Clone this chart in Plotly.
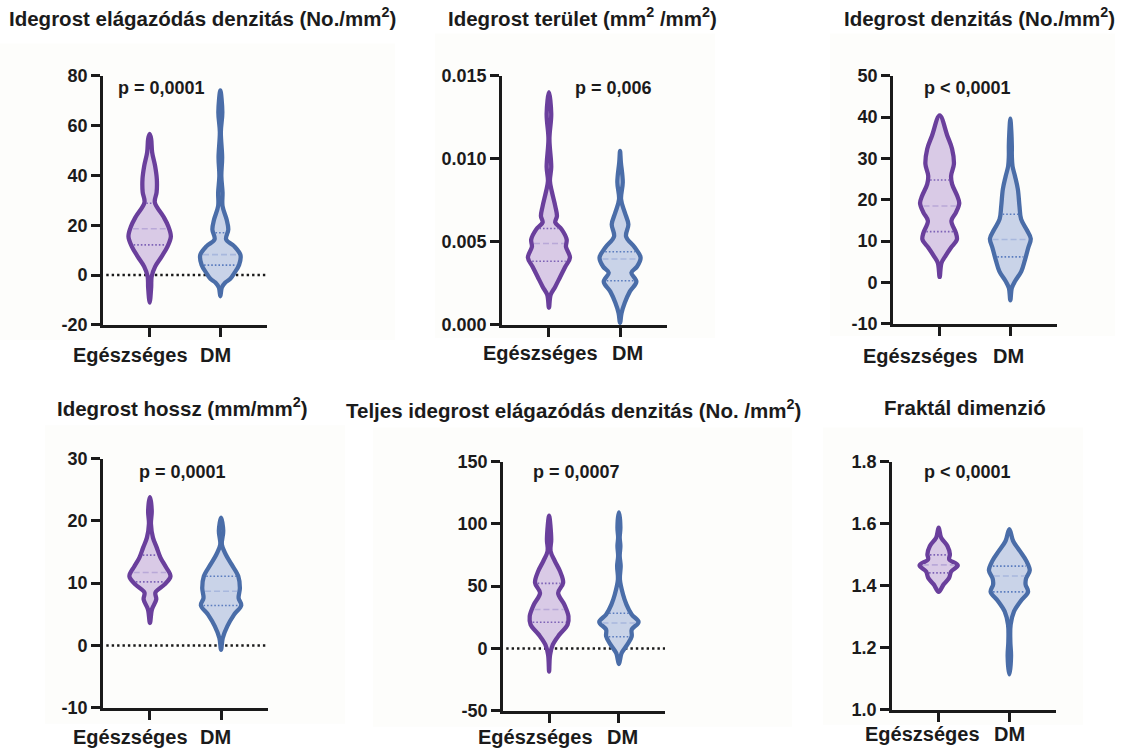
import numpy as np
import plotly.graph_objects as go

# ---------------- DATA ----------------
categories = ["Egészséges", "DM"]

titles = [
    "Idegrost elágazódás denzitás (No./mm<sup>2</sup>)",
    "Idegrost terület (mm<sup>2</sup> /mm<sup>2</sup>)",
    "Idegrost denzitás (No./mm<sup>2</sup>)",
    "Idegrost hossz (mm/mm<sup>2</sup>)",
    "Teljes idegrost elágazódás denzitás (No. /mm<sup>2</sup>)",
    "Fraktál dimenzió",
]
p_labels = ["p = 0,0001", "p = 0,006", "p < 0,0001", "p = 0,0001", "p = 0,0007", "p < 0,0001"]

# y-axis ticks
p1_ticks = [-20, 0, 20, 40, 60, 80]
p2_ticks = [0.000, 0.005, 0.010, 0.015]
p2_ticktext = ["0.000", "0.005", "0.010", "0.015"]
p3_ticks = [-10, 0, 10, 20, 30, 40, 50]
p4_ticks = [-10, 0, 10, 20, 30]
p5_ticks = [-50, 0, 50, 100, 150]
p6_ticks = [1.0, 1.2, 1.4, 1.6, 1.8]
p6_ticktext = ["1.0", "1.2", "1.4", "1.6", "1.8"]

# Violin density profiles (value, relative density)
p1_h_vals = [-11.1, -5, -0.6, 3.4, 7.4, 11.5, 15.5, 19.5, 23.5, 29.2, 33.2, 38.5, 43.7, 49.3, 54.6, 56.6]
p1_h_dens = [0, 1.5, 2, 5.5, 12, 18, 21.3, 18.8, 13.8, 5.2, 7, 7.2, 5.5, 2.5, 1.5, 0]
p1_d_vals = [-8.5, -5, -3, -1.5, 0.8, 4.0, 8.0, 11.6, 14.3, 18.3, 22.3, 27.7, 33.2, 39.7, 47.3, 57.4, 65.4, 74.1]
p1_d_dens = [0, 1.5, 5, 10, 14, 18.8, 20.2, 13.8, 5.8, 8, 6.3, 2.2, 2.2, 1, 1.8, 0.5, 2, 0]

p2_h_vals = [1.03e-3, 1.81e-3, 2.3e-3, 2.9e-3, 3.5e-3, 4.05e-3, 4.7e-3, 5.14e-3, 5.75e-3, 6.17e-3, 6.55e-3, 7.15e-3, 8.0e-3, 8.65e-3, 9.5e-3, 11.2e-3, 12.7e-3, 14.01e-3]
p2_h_dens = [0, 1.7, 6.3, 11.3, 16.3, 21, 17, 17.7, 12.7, 6.3, 8, 6.3, 3, 1, 2.3, 0.5, 2.3, 0]
p2_d_vals = [0.12e-3, 0.72e-3, 1.33e-3, 2.0e-3, 2.6e-3, 3.14e-3, 3.5e-3, 4.05e-3, 4.66e-3, 5.32e-3, 6.05e-3, 6.77e-3, 7.56e-3, 8.59e-3, 9.8e-3, 10.48e-3]
p2_d_dens = [0, 1.5, 4.7, 9.7, 16.3, 11.3, 16.8, 20.5, 14.7, 6, 8.3, 4.7, 1, 2.7, 0.8, 0]

p3_h_vals = [1.35, 4.7, 6.4, 8.4, 10.4, 12.0, 14.9, 16.9, 19.2, 20.9, 23.8, 25.8, 28.6, 32.3, 35.5, 40.4]
p3_h_dens = [0, 1.8, 5.8, 11.3, 17.3, 16.3, 11.8, 16.3, 19.7, 17.7, 12.5, 11.5, 14.3, 12.5, 7.7, 0]
p3_d_vals = [-4.3, -1.3, 0.3, 2.7, 5.5, 8.4, 10.6, 12.8, 15.3, 18.4, 22.6, 25.7, 28.1, 30.6, 33.0, 36.4, 39.6]
p3_d_dens = [0, 1.5, 4.7, 11, 14.7, 18, 20.5, 16.3, 10.8, 9.2, 7.5, 4.7, 2.2, 1.5, 1.5, 1, 0]

p4_h_vals = [3.6, 5.8, 7.4, 8.5, 9.8, 11.1, 12.7, 14.1, 15.7, 17.3, 19.5, 21.6, 23.8]
p4_h_dens = [0, 2, 6.3, 5.5, 14.7, 20.5, 15.5, 10.5, 6.8, 3, 1, 1.8, 0]
p4_d_vals = [-0.7, 1.2, 3.1, 4.95, 6.45, 7.6, 9.2, 11.1, 13.0, 14.6, 16.2, 18.4, 20.5]
p4_d_dens = [0, 1.7, 6.3, 13, 20.2, 17.5, 18.8, 17.2, 10.5, 4.7, 0.8, 2.2, 0]

p5_h_vals = [-18.5, -5.1, 3.0, 11.1, 19.1, 25.8, 35.2, 44.6, 52.7, 62.1, 70.2, 78.2, 87.6, 106.5]
p5_h_dens = [0, 1, 3.8, 10.5, 18.8, 19.7, 15.5, 9.2, 14.3, 11, 5.8, 1.5, 2.2, 0]
p5_d_vals = [-12.6, -3.8, 3.0, 9.7, 15.1, 21.2, 27.2, 35.2, 43.3, 55.4, 66.1, 74.2, 82.3, 89.0, 97.0, 109.1]
p5_d_dens = [0, 2.7, 8.5, 13, 13, 20, 13, 7.7, 4.2, 1, 1.8, 0.8, 1.5, 0.8, 1.5, 0]

p6_h_vals = [1.380, 1.404, 1.425, 1.445, 1.465, 1.485, 1.501, 1.528, 1.555, 1.587]
p6_h_dens = [0, 5, 10.5, 12.5, 19.2, 10.5, 11.3, 8.8, 2.5, 0]
p6_d_vals = [1.114, 1.172, 1.220, 1.274, 1.317, 1.350, 1.380, 1.404, 1.423, 1.449, 1.479, 1.512, 1.544, 1.582]
p6_d_dens = [0, 1.7, 1, 1.3, 4.7, 11.3, 18.8, 16.3, 16.8, 20.5, 17.2, 10.5, 3.8, 0]

# Quartiles (Q1, median, Q3)
p1_h_q = [12.1, 18.6, 28.8]
p1_d_q = [4.0, 8.2, 17.0]
p2_h_q = [0.00383, 0.0049, 0.0058]
p2_d_q = [0.00266, 0.00397, 0.0044]
p3_h_q = [12.3, 18.5, 24.8]
p3_d_q = [6.2, 10.4, 16.5]
p4_h_q = [10.2, 11.7, 14.5]
p4_d_q = [6.4, 8.7, 11.1]
p5_h_q = [21.0, 31.2, 52.2]
p5_d_q = [9.4, 20.4, 28.2]
p6_h_q = [1.441, 1.467, 1.499]
p6_d_q = [1.380, 1.431, 1.463]

panels = [
    dict(ticks=p1_ticks, ticktext=[str(t) for t in p1_ticks], zero=True,
         h=(p1_h_vals, p1_h_dens, p1_h_q), d=(p1_d_vals, p1_d_dens, p1_d_q)),
    dict(ticks=p2_ticks, ticktext=p2_ticktext, zero=False,
         h=(p2_h_vals, p2_h_dens, p2_h_q), d=(p2_d_vals, p2_d_dens, p2_d_q)),
    dict(ticks=p3_ticks, ticktext=[str(t) for t in p3_ticks], zero=False,
         h=(p3_h_vals, p3_h_dens, p3_h_q), d=(p3_d_vals, p3_d_dens, p3_d_q)),
    dict(ticks=p4_ticks, ticktext=[str(t) for t in p4_ticks], zero=True,
         h=(p4_h_vals, p4_h_dens, p4_h_q), d=(p4_d_vals, p4_d_dens, p4_d_q)),
    dict(ticks=p5_ticks, ticktext=[str(t) for t in p5_ticks], zero=True,
         h=(p5_h_vals, p5_h_dens, p5_h_q), d=(p5_d_vals, p5_d_dens, p5_d_q)),
    dict(ticks=p6_ticks, ticktext=p6_ticktext, zero=False,
         h=(p6_h_vals, p6_h_dens, p6_h_q), d=(p6_d_vals, p6_d_dens, p6_d_q)),
]

# ---------------- LAYOUT / STYLE ----------------
W = 1125
FIG_H = 760
Y_SCALE = 0.969   # observed vertical mapping of the page capture
Y_OFF = 12
PX_PER_CAT = 71.0
XR = [-0.66, 1.66]
FONT = "Liberation Sans, Arial, Helvetica, sans-serif"
TXT = "#1b1b1b"


def py(y):
    """target-image pixel row -> paper fraction"""
    yf = y / Y_SCALE - Y_OFF
    return 1 - yf / FIG_H


# plot area boxes in target px: (left, right, top, bottom)
boxes = [(103, 267, 77, 325), (502, 667, 77, 325), (893, 1057, 77, 324),
         (103, 268, 458, 706), (503, 665, 461, 709), (892, 1056, 461, 708)]
title_pos = [(202, 19), (582, 19), (980, 19), (183, 407), (573, 409), (965, 407)]
p_pos = [(161, 89), (613, 89), (967, 89), (182, 471), (576, 471), (967, 471)]
cat_pos = [((130, 355), (215, 355)), ((540, 353), (627, 353)), ((920, 356), (1008, 356)),
           ((130, 735), (215, 735)), ((535, 735), (622, 735)), ((922, 732), (1009, 732))]
bg_rects = [(0, 45, 395, 340), (435, 35, 715, 338), (830, 35, 1115, 336),
            (45, 425, 345, 722), (373, 427, 792, 725), (823, 427, 1083, 723)]

STYLE = {
    0: dict(line="#6a3f9c", fill="#d9cae6", q="#7d62b6", med="#b9a8d8"),
    1: dict(line="#4a6da8", fill="#c9d3e8", q="#5a7cbe", med="#a8b8dd"),
}

fig = go.Figure()
layout = dict(width=W, height=FIG_H, margin=dict(l=0, r=0, t=0, b=0),
              paper_bgcolor="white", plot_bgcolor="rgba(0,0,0,0)",
              showlegend=False, font=dict(family=FONT, color=TXT))
shapes, annotations = [], []

for (x0, y0, x1, y1) in bg_rects:
    shapes.append(dict(type="rect", xref="paper", yref="paper", layer="below",
                       x0=x0 / W, x1=x1 / W, y0=py(y1), y1=py(y0),
                       fillcolor="#fdfdfb", line=dict(width=0)))

for i, pan in enumerate(panels):
    k = "" if i == 0 else str(i + 1)
    xa, ya = "x" + k, "y" + k
    L, R, T, B = boxes[i]
    ymin, ymax = pan["ticks"][0], pan["ticks"][-1]

    layout["xaxis" + k] = dict(domain=[L / W, R / W], range=XR, anchor=ya,
                               showline=True, linewidth=2.7, linecolor="#1a1a1a",
                               ticks="outside", ticklen=9, tickwidth=2.7, tickcolor="#1a1a1a",
                               tickvals=[0, 1], showticklabels=False,
                               showgrid=False, zeroline=False, fixedrange=True)
    layout["yaxis" + k] = dict(domain=[py(B), py(T)], range=[ymin, ymax], anchor=xa,
                               showline=True, linewidth=2.7, linecolor="#1a1a1a",
                               ticks="outside", ticklen=9, tickwidth=2.7, tickcolor="#1a1a1a",
                               tickvals=pan["ticks"], ticktext=pan["ticktext"],
                               tickfont=dict(size=18, family=FONT, color=TXT, weight="bold"),
                               showgrid=False, zeroline=False, fixedrange=True)

    if pan["zero"]:
        shapes.append(dict(type="line", xref=xa + " domain", yref=ya, x0=0.02, x1=1, y0=0, y1=0,
                           line=dict(color="#1a1a1a", width=2.4, dash="2.4px,3px"), layer="below"))

    for gi, key in enumerate(["h", "d"]):
        vals, dens, q = pan[key]
        st = STYLE[gi]
        v = np.array(vals, dtype=float)
        w = np.array(dens, dtype=float) / PX_PER_CAT
        xs = np.concatenate([gi + w, (gi - w)[::-1][1:]])
        ys = np.concatenate([v, v[::-1][1:]])
        fig.add_trace(go.Scatter(x=xs, y=ys, mode="lines", fill="toself",
                                 fillcolor=st["fill"], xaxis=xa, yaxis=ya,
                                 line=dict(color=st["line"], width=4.3, shape="spline", smoothing=1.0),
                                 hoverinfo="skip"))
        for qi, qv in enumerate(q):
            hw = max(np.interp(qv, v, np.array(dens, dtype=float)) - 2.4, 0.5) / PX_PER_CAT
            if qi == 1:
                ln = dict(color=st["med"], width=1.6, dash="6px,3px")
            else:
                ln = dict(color=st["q"], width=1.6, dash="1.6px,2px")
            fig.add_trace(go.Scatter(x=[gi - hw, gi + hw], y=[qv, qv], mode="lines",
                                     xaxis=xa, yaxis=ya, line=ln, hoverinfo="skip"))

    tx, ty = title_pos[i]
    annotations.append(dict(text="<b>" + titles[i] + "</b>", xref="paper", yref="paper",
                            x=tx / W, y=py(ty), xanchor="center", yanchor="middle",
                            showarrow=False, font=dict(size=20.5, family=FONT, color=TXT)))
    px_, py_ = p_pos[i]
    annotations.append(dict(text="<b>" + p_labels[i] + "</b>", xref="paper", yref="paper",
                            x=px_ / W, y=py(py_), xanchor="center", yanchor="middle",
                            showarrow=False, font=dict(size=18, family=FONT, color=TXT)))
    for ci, cat in enumerate(categories):
        cx, cy = cat_pos[i][ci]
        annotations.append(dict(text="<b>" + cat + "</b>", xref="paper", yref="paper",
                                x=cx / W, y=py(cy), xanchor="center", yanchor="middle",
                                showarrow=False, font=dict(size=20, family=FONT, color=TXT)))

layout["shapes"] = shapes
layout["annotations"] = annotations
fig.update_layout(**layout)
fig.write_html("out.html")
